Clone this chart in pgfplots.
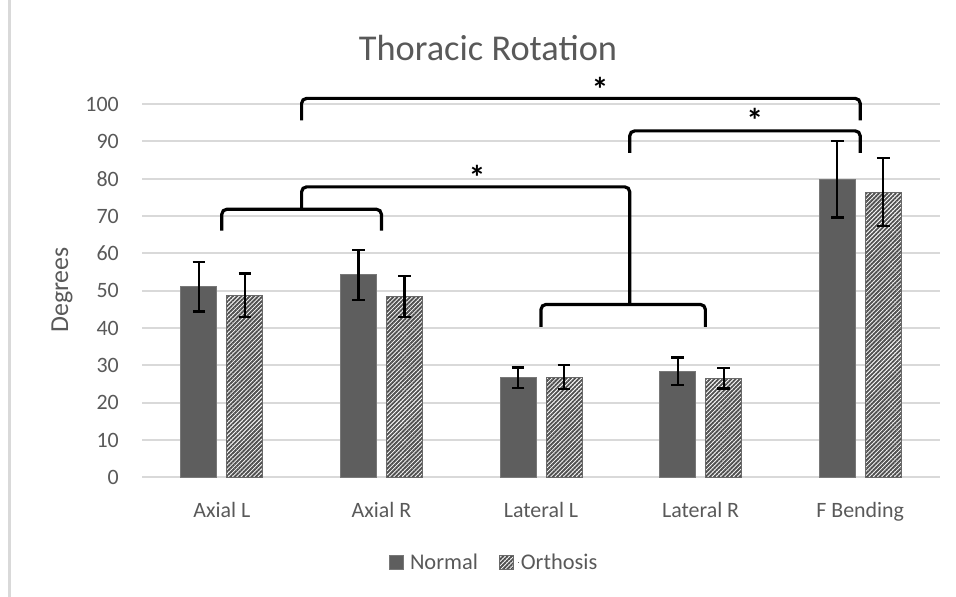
\documentclass[border=0pt]{standalone}
\usepackage{fontspec}
\setmainfont{Carlito}
\usepackage{pgfplots}
\pgfplotsset{compat=1.18}
\usetikzlibrary{patterns.meta}
\definecolor{txt}{RGB}{89,89,89}
\definecolor{barA}{RGB}{94,94,94}
\definecolor{barAedge}{RGB}{120,120,120}
\definecolor{barB}{RGB}{80,80,80}
\definecolor{barBedge}{RGB}{105,105,105}
\definecolor{gridc}{RGB}{217,217,217}
\pgfplotsset{myerr/.style={error bars/.cd, y dir=both, y explicit,
    error bar style={line width=2.2bp, black},
    error mark options={rotate=90, mark size=6.3bp, line width=2.2bp, black}}}
\begin{document}
\begin{tikzpicture}[x=1bp,y=1bp]
\path[use as bounding box] (0,0) rectangle (956,597);
\draw[gridc, line width=2.5bp] (9.5,0) -- (9.5,597);
\begin{axis}[
  at={(142bp,119.7bp)}, anchor=south west,
  scale only axis, width=798bp, height=373.3bp,
  xmin=-0.5, xmax=4.5, ymin=0, ymax=100,
  ybar=10bp, bar width=36bp,
  clip=false,
  axis line style={draw=none},
  major tick length=0pt,
  ymajorgrids, grid style={line width=1.8bp, gridc},
  xtick={0,1,2,3,4},
  xticklabels={Axial L, Axial R, Lateral L, Lateral R, F Bending},
  ytick={0,10,...,100},
  /pgf/number format/assume math mode=true,
  tick label style={text=txt, font=\fontsize{22}{25}\selectfont},
  yticklabel style={anchor=east, inner sep=0pt, xshift=-23bp},
  xticklabel style={anchor=base, inner sep=0pt, yshift=-40bp},
  legend image code/.code={\draw[#1, line width=1bp] (0bp,-7bp) rectangle (14bp,7bp); \draw[draw=none, fill=none] (19bp,0bp) -- (19bp,0.1bp);},
  legend style={at={(0.441,-0.227)}, anchor=center, draw=none, fill=none,
    legend columns=2, font=\fontsize{22.5}{25}\selectfont, text=txt,
    /tikz/every even column/.append style={column sep=19bp}},
]
\addplot[fill=barA, draw=barAedge, line width=1bp, myerr]
  coordinates {(0,51.0) +- (0,6.6) (1,54.2) +- (0,6.7) (2,26.7) +- (0,2.7) (3,28.4) +- (0,3.7) (4,79.8) +- (0,10.2)};
\addlegendentry{Normal}
\addplot[fill=white, draw=barBedge, line width=1bp,
  postaction={pattern color=barB, pattern={Lines[angle=45, distance=3bp, line width=1.9bp]}}, myerr]
  coordinates {(0,48.8) +- (0,5.8) (1,48.5) +- (0,5.5) (2,26.8) +- (0,3.2) (3,26.5) +- (0,2.7) (4,76.4) +- (0,9.1)};
\addlegendentry{Orthosis}
% significance brackets
\draw[line width=3.2bp, rounded corners=5bp] (axis cs:0,66.1) -- (axis cs:0,71.8) -- (axis cs:1,71.8) -- (axis cs:1,66.1);
\draw[line width=3.2bp, rounded corners=5bp] (axis cs:0.5,71.8) -- (axis cs:0.5,77.8) -- (axis cs:2.556,77.8) -- (axis cs:2.556,46.3);
\draw[line width=3.2bp, rounded corners=5bp] (axis cs:2,40.3) -- (axis cs:2,46.3) -- (axis cs:3.03,46.3) -- (axis cs:3.03,40.3);
\draw[line width=3.2bp, rounded corners=5bp] (axis cs:2.556,86.9) -- (axis cs:2.556,92.8) -- (axis cs:4,92.8) -- (axis cs:4,86.9);
\draw[line width=3.2bp, rounded corners=5bp] (axis cs:0.5,95.6) -- (axis cs:0.5,101.5) -- (axis cs:4,101.5) -- (axis cs:4,95.6);
\node[font=\fontsize{34}{36}\selectfont\bfseries, inner sep=0pt] at (axis cs:2.37,104.0) {*};
\node[font=\fontsize{34}{36}\selectfont\bfseries, inner sep=0pt] at (axis cs:3.34,95.5) {*};
\node[font=\fontsize{34}{36}\selectfont\bfseries, inner sep=0pt] at (axis cs:1.60,80.3) {*};
\end{axis}
\node[anchor=base, text=txt, font=\fontsize{36.5}{40}\selectfont] at (488,536.3) {Thoracic Rotation};
\node[rotate=90, text=txt, font=\fontsize{26}{28}\selectfont] at (62,307) {Degrees};
\end{tikzpicture}
\end{document}
